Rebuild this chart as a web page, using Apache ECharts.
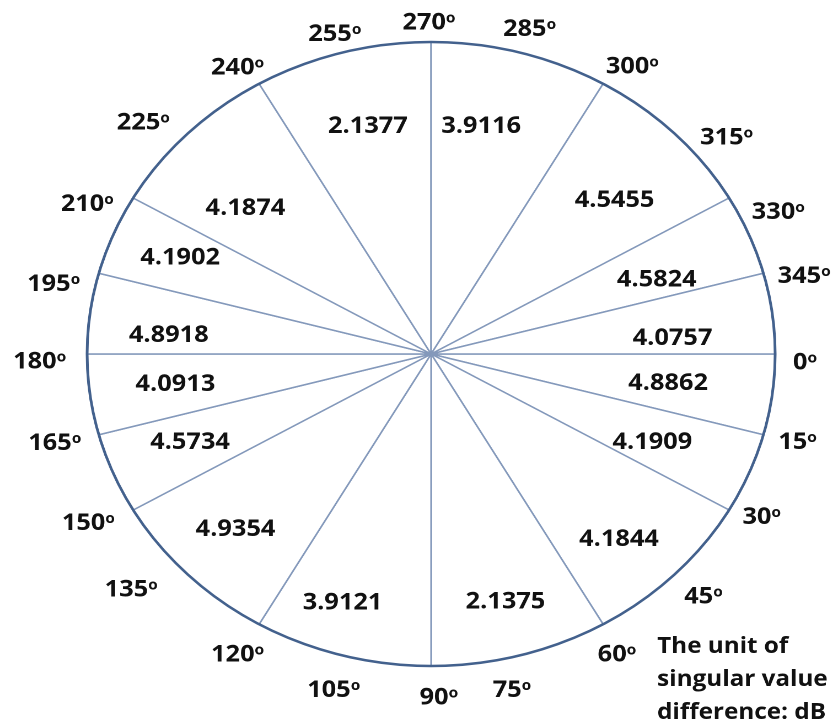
<!DOCTYPE html>
<html>
<head>
<meta charset="utf-8">
<script src="https://cdn.jsdelivr.net/npm/echarts@6/dist/echarts.min.js"></script>
<style>
  html, body { margin: 0; padding: 0; background: #fff; overflow: hidden; }
  body { width: 832px; height: 724px; }
  /* The chart is laid out on a narrower canvas and widened into an ellipse */
  #chart { width: 755px; height: 724px; transform: scaleX(1.1026); transform-origin: 0 0; }
</style>
</head>
<body>
<div id="chart"></div>
<script>
// Sector boundaries in degrees, measured clockwise from the right-hand horizontal
const sectorEdges = [0, 15, 30, 60, 90, 120, 150, 165, 180, 195, 210, 240, 270, 300, 330, 345, 360];
// Singular value difference (dB) for each sector, in the same order
const diffValues = [4.8862, 4.1909, 4.1844, 2.1375, 3.9121, 4.9354, 4.5734, 4.0913,
                    4.8918, 4.1902, 4.1874, 2.1377, 3.9116, 4.5455, 4.5824, 4.0757];
// Degree labels around the rim
const angleTicks = [0, 15, 30, 45, 60, 75, 90, 105, 120, 135, 150, 165,
                    180, 195, 210, 225, 240, 255, 270, 285, 300, 315, 330, 345];
const unitText = 'The unit of\nsingular value\ndifference: dB';

// Layout / style settings
const FONT = '"Open Sans", Lato, "DejaVu Sans", sans-serif';
const INK = '#111111';
const CENTER = [391, 354];
const R = 312;
const RIM_LABEL_RING = 1.106;          // rim label distance, in radius units
// small hand nudges [dx, dy] (px) for the value labels, per sector
const valueNudge = [[-24, -2], [-22, -4], [0, 15], [5, 15], [-18, 16], [-7, 5], [4, -4], [7, -1],
                    [1, 13], [-5, -4], [2, 25], [5, 5], [-17, 5], [-4, 17], [-18, 18], [-20, 16]];
// small hand nudges [dx, dy] (px) for the degree labels, per tick
const rimNudge = [[-6, 9], [-1, -1], [1, -9], [3, -1], [-4, 2], [-16, 3], [7, -1], [1, 3],
                  [-3, 2], [-28, -8], [-12, -3], [-8, 0], [-10, 8], [-9, 20], [-13, 23], [-17, 13],
                  [-3, 13], [2, 14], [-2, 14], [0, 9], [10, 12], [24, 28], [16, 31], [5, 12]];

const sectors = diffValues.map((v, i) => ({
  value: sectorEdges[i + 1] - sectorEdges[i],
  name: v.toFixed(4)
}));

const chart = echarts.init(document.getElementById('chart'), null, { renderer: 'canvas', devicePixelRatio: 2 });

const textBase = { fontFamily: FONT, fontWeight: 'bold', color: INK, textBorderWidth: 0 };

chart.setOption({
  animation: false,
  backgroundColor: '#ffffff',
  title: {
    text: unitText,
    left: 591,
    top: 625,
    textStyle: Object.assign({ fontSize: 22, lineHeight: 33 }, textBase)
  },
  polar: { center: CENTER, radius: R },
  angleAxis: {
    type: 'value',
    min: 0,
    max: 360,
    interval: 15,
    startAngle: 0,
    clockwise: true,
    z: 10,
    axisLine: { show: true, lineStyle: { color: '#43618d', width: 2.5 } },
    axisTick: { show: false },
    splitLine: { show: false },
    axisLabel: { show: false }
  },
  radiusAxis: { show: false, min: 0, max: 1 },
  series: [
    {
      // sector fills and the radial dividing lines
      type: 'pie',
      center: CENTER,
      radius: [0, R],
      startAngle: 0,
      clockwise: true,
      silent: true,
      z: 2,
      data: sectors,
      itemStyle: { color: '#ffffff', borderColor: '#8499bb', borderWidth: 1.5 },
      label: { show: false },
      labelLine: { show: false }
    },
    {
      // value labels inside each sector
      type: 'pie',
      center: CENTER,
      radius: [186, 290],
      startAngle: 0,
      clockwise: true,
      silent: true,
      z: 3,
      data: sectors,
      itemStyle: { color: 'rgba(0,0,0,0)', borderWidth: 0 },
      label: Object.assign({
        show: true,
        position: 'inside',
        formatter: p => diffValues[p.dataIndex].toFixed(4),
        fontSize: 23
      }, textBase),
      labelLine: { show: false },
      labelLayout: p => ({ dx: valueNudge[p.dataIndex][0], dy: valueNudge[p.dataIndex][1] })
    },
    {
      // degree labels around the rim
      type: 'scatter',
      coordinateSystem: 'polar',
      silent: true,
      clip: false,
      symbolSize: 1,
      itemStyle: { color: '#ffffff', opacity: 0 },
      z: 11,
      data: angleTicks.map(a => [RIM_LABEL_RING, a]),
      label: Object.assign({
        show: true,
        position: 'inside',
        opacity: 1,
        formatter: p => '{d|' + angleTicks[p.dataIndex] + '}{s|o}',
        rich: {
          d: Object.assign({ fontSize: 23, opacity: 1 }, textBase),
          s: Object.assign({ fontSize: 14, verticalAlign: 'top', opacity: 1 }, textBase)
        }
      }, textBase),
      labelLayout: p => ({ dx: rimNudge[p.dataIndex][0], dy: rimNudge[p.dataIndex][1] })
    }
  ]
});
</script>
</body>
</html>
